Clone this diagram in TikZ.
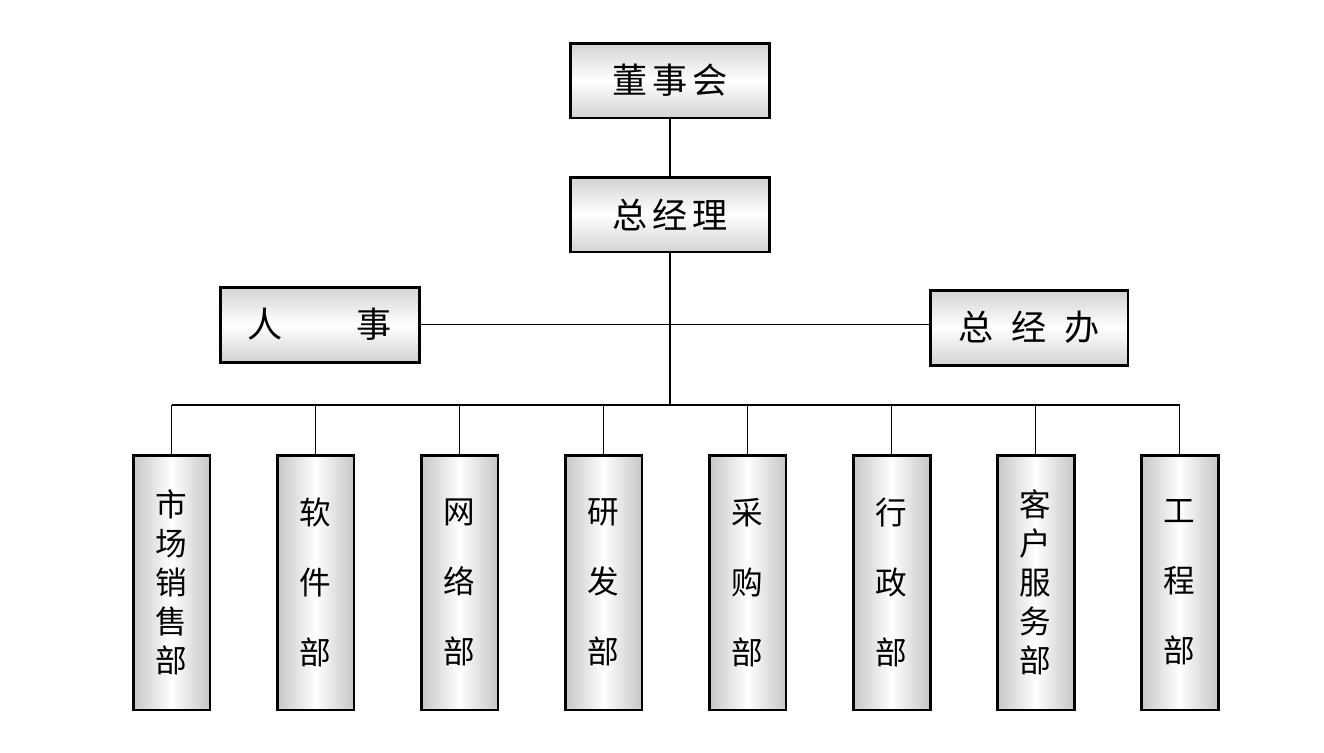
\documentclass[tikz,border=0pt]{standalone}
\usepackage{fontspec}
\setmainfont{Noto Sans CJK SC}
\tikzset{
  hbox/.style={draw=black,line width=1.7pt,minimum width=4cm,minimum height=1.5cm,
    top color=gray!35,bottom color=gray!35,middle color=white,
    font=\fontsize{20}{24}\selectfont},
  vbox/.style={draw=black,line width=1.7pt,minimum width=1.54cm,minimum height=5.1cm,
    left color=gray!45,right color=gray!45,middle color=white,align=center,
    inner sep=0pt},
  link/.style={line width=1.1pt}
}
\begin{document}
\begin{tikzpicture}[x=0.02cm,y=-0.02cm]
  \useasboundingbox (0,0) rectangle (1324,752);
  \node[hbox] (dsh) at (670,80.5) {董\hspace{0.15em}事\hspace{0.15em}会};
  \node[hbox] (zjl) at (670,214.5) {总\hspace{0.15em}经\hspace{0.15em}理};
  \node[hbox] (rs) at (320,324.5) {人\hspace{2.1em}事};
  \node[hbox,minimum width=3.96cm] (zjb) at (1029,327.5) {总\hspace{0.5em}经\hspace{0.5em}办};
  \coordinate (bus) at (670,405);
  % departments, line spacing in pt
  \foreach \i/\txt/\sp in {1/市\\场\\销\\售\\部/22.2,2/软\\件\\部/39.8,3/网\\络\\部/39.8,
      4/研\\发\\部/39.8,5/采\\购\\部/39.8,6/行\\政\\部/39.8,7/客\\户\\服\\务\\部/22.2,8/工\\程\\部/39.8}
    \node[vbox,font=\fontsize{18}{\sp}\selectfont] (d\i) at ({171.5+144*(\i-1)},582.5) {\txt};
  \draw[link] (dsh) -- (zjl);
  \draw[link] (zjl.south) -- (bus);
  \draw[link] (rs.east) -- (rs.east -| zjb.west);
  \draw[link] (d1.north |- bus) -- (d8.north |- bus);
  \foreach \i in {1,...,8}
    \draw[link] (d\i.north) -- (d\i.north |- bus);
\end{tikzpicture}
\end{document}
